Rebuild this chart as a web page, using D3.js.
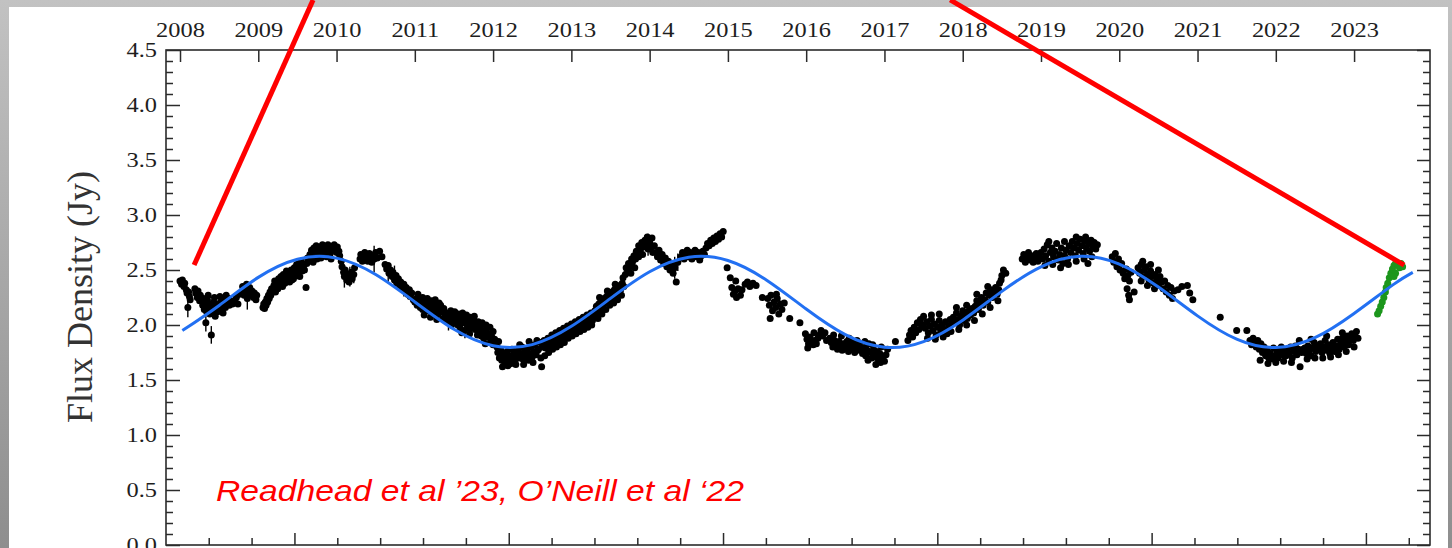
<!DOCTYPE html>
<html>
<head>
<meta charset="utf-8">
<script src="https://cdn.jsdelivr.net/npm/d3@7"></script>
<style>
  html, body { margin: 0; padding: 0; background: #fff; }
  svg { display: block; }
</style>
</head>
<body>
<svg id="chart" width="1452" height="548"></svg>
<script>
// ---- data -------------------------------------------------------------
const yearTicks = [2008, 2009, 2010, 2011, 2012, 2013, 2014, 2015, 2016, 2017, 2018, 2019, 2020, 2021, 2022, 2023];
const fluxMajorTicks = [0.0, 0.5, 1.0, 1.5, 2.0, 2.5, 3.0, 3.5, 4.0, 4.5];
const fluxMinorTicks = [0.1,0.2,0.3,0.4, 0.6,0.7,0.8,0.9, 1.1,1.2,1.3,1.4, 1.6,1.7,1.8,1.9,
                        2.1,2.2,2.3,2.4, 2.6,2.7,2.8,2.9, 3.1,3.2,3.3,3.4, 3.6,3.7,3.8,3.9, 4.1,4.2,4.3,4.4];
// lower axis in Modified Julian Date
const mjdMajorTicks = [55000, 56000, 57000, 58000, 59000, 60000];
const mjdMinorTicks = [54600, 54800, 55200, 55400, 55600, 55800, 56200, 56400, 56600, 56800,
                       57200, 57400, 57600, 57800, 58200, 58400, 58600, 58800, 59200, 59400,
                       59600, 59800, 60200];

// sinusoidal fit (Jy) sampled every half year
const fitYear = [2008.03, 2008.5, 2009.0, 2009.5, 2010.0, 2010.5, 2011.0, 2011.5, 2012.0, 2012.5,
                 2013.0, 2013.5, 2014.0, 2014.5, 2015.0, 2015.5, 2016.0, 2016.5, 2017.0, 2017.5,
                 2018.0, 2018.5, 2019.0, 2019.5, 2020.0, 2020.5, 2021.0, 2021.5, 2022.0, 2022.5,
                 2023.0, 2023.5, 2023.75];
const fitFlux = [1.949, 2.178, 2.433, 2.598, 2.608, 2.459, 2.210, 1.961, 1.812, 1.822,
                 1.988, 2.242, 2.484, 2.616, 2.586, 2.405, 2.145, 1.912, 1.798, 1.849,
                 2.044, 2.306, 2.529, 2.624, 2.554, 2.345, 2.083, 1.871, 1.795, 1.885,
                 2.105, 2.367, 2.479];

// 15 GHz light curve: [decimal year, flux density Jy]
const radioObs = [
  [2008.00,2.40],[2008.02,2.37],[2008.03,2.41],[2008.05,2.35],[2008.06,2.38],[2008.08,2.32],[2008.09,2.29],[2008.11,2.30],[2008.12,2.26],[2008.13,2.23],[2008.10,2.16],
  [2008.19,2.33],[2008.20,2.29],[2008.22,2.25],[2008.23,2.31],[2008.25,2.22],[2008.26,2.27],
  [2008.29,2.18],[2008.30,2.24],[2008.31,2.14],[2008.33,2.02],[2008.33,2.20],[2008.34,2.12],[2008.35,2.23],[2008.37,2.16],[2008.38,2.10],[2008.40,1.91],[2008.40,2.19],
  [2008.42,2.13],[2008.43,2.21],[2008.45,2.15],[2008.47,2.19],[2008.48,2.12],[2008.50,2.17],[2008.52,2.21],[2008.53,2.14],[2008.55,2.19],[2008.57,2.23],[2008.58,2.16],
  [2008.60,2.20],[2008.62,2.24],[2008.63,2.18],[2008.65,2.22],[2008.67,2.19],[2008.70,2.21],[2008.72,2.25],[2008.74,2.19],[2008.76,2.28],
  [2008.36,2.27],[2008.44,2.25],[2008.51,2.26],[2008.59,2.27],[2008.45,2.08],[2008.55,2.11],
  [2008.79,2.30],[2008.80,2.35],[2008.82,2.27],[2008.83,2.32],[2008.85,2.37],[2008.86,2.24],[2008.88,2.30],[2008.89,2.34],[2008.91,2.27],[2008.92,2.31],[2008.94,2.25],[2008.95,2.29],[2008.97,2.23],[2008.98,2.27],
  [2009.06,2.16],[2009.07,2.19],[2009.08,2.15],[2009.09,2.21],[2009.10,2.18],[2009.11,2.24],[2009.12,2.21],[2009.13,2.27],[2009.14,2.24],[2009.15,2.30],[2009.16,2.27],[2009.17,2.33],[2009.18,2.30],
  [2009.20,2.36],[2009.21,2.40],[2009.23,2.34],[2009.24,2.38],[2009.26,2.42],[2009.27,2.37],[2009.29,2.44],[2009.30,2.40],[2009.32,2.46],[2009.33,2.41],[2009.35,2.45],[2009.36,2.49],
  [2009.38,2.43],[2009.39,2.47],[2009.41,2.44],[2009.42,2.50],[2009.44,2.46],[2009.45,2.42],[2009.47,2.48],[2009.48,2.45],[2009.50,2.51],[2009.51,2.47],[2009.53,2.44],[2009.54,2.52],
  [2009.56,2.49],[2009.58,2.54],[2009.59,2.50],[2009.61,2.34],
  [2009.22,2.30],[2009.25,2.33],[2009.28,2.36],[2009.31,2.35],[2009.34,2.38],[2009.37,2.40],[2009.40,2.39],[2009.43,2.41],[2009.46,2.52],[2009.49,2.55],[2009.52,2.56],[2009.55,2.58],
  [2009.62,2.56],[2009.63,2.61],[2009.64,2.58],[2009.66,2.64],[2009.67,2.60],[2009.68,2.68],[2009.70,2.63],[2009.71,2.70],[2009.73,2.66],[2009.74,2.72],[2009.76,2.68],[2009.77,2.63],
  [2009.79,2.71],[2009.80,2.67],[2009.82,2.73],[2009.83,2.69],[2009.85,2.64],[2009.86,2.71],[2009.88,2.67],[2009.89,2.73],[2009.91,2.69],[2009.92,2.65],[2009.94,2.71],[2009.95,2.68],
  [2009.97,2.73],[2009.98,2.69],[2010.00,2.66],[2010.01,2.71],[2010.03,2.67],[2010.04,2.63],
  [2009.70,2.57],[2009.75,2.60],[2009.80,2.61],[2009.87,2.62],[2009.93,2.60],
  [2010.06,2.58],[2010.07,2.53],[2010.09,2.48],[2010.10,2.44],[2010.11,2.50],[2010.13,2.41],[2010.14,2.46],[2010.16,2.39],[2010.17,2.44],[2010.19,2.48],[2010.20,2.42],[2010.22,2.46],[2010.23,2.52],
  [2010.30,2.60],[2010.31,2.64],[2010.33,2.58],[2010.34,2.62],[2010.36,2.66],[2010.37,2.60],[2010.39,2.63],[2010.40,2.58],[2010.42,2.65],[2010.43,2.61],[2010.45,2.57],[2010.46,2.63],
  [2010.48,2.60],[2010.50,2.66],[2010.52,2.61],[2010.55,2.67],[2010.58,2.62],
  [2010.62,2.55],[2010.64,2.51],[2010.66,2.54],[2010.67,2.47],[2010.69,2.50],[2010.71,2.44],[2010.72,2.48],[2010.74,2.41],[2010.76,2.45],[2010.77,2.38],[2010.79,2.42],[2010.81,2.36],
  [2010.82,2.39],[2010.84,2.33],[2010.86,2.37],[2010.88,2.31],[2010.89,2.34],[2010.91,2.28],[2010.93,2.32],[2010.94,2.26],[2010.96,2.29],[2010.98,2.23],
  [2011.00,2.21],[2011.02,2.24],[2011.03,2.18],[2011.05,2.22],[2011.07,2.16],[2011.08,2.20],[2011.10,2.14],[2011.12,2.18],[2011.13,2.22],[2011.15,2.15],[2011.17,2.19],[2011.18,2.13],
  [2011.20,2.17],[2011.22,2.11],[2011.23,2.15],[2011.25,2.19],[2011.27,2.13],[2011.28,2.16],[2011.30,2.10],[2011.32,2.14],[2011.33,2.18],[2011.35,2.12],[2011.37,2.15],
  [2011.04,2.28],[2011.10,2.25],[2011.16,2.24],[2011.21,2.22],[2011.26,2.23],[2011.31,2.20],[2011.36,2.06],[2011.12,2.09],[2011.20,2.07],[2011.28,2.05],
  [2011.39,2.09],[2011.40,2.05],[2011.42,2.11],[2011.43,2.03],[2011.45,2.07],[2011.47,2.00],[2011.48,2.05],[2011.50,2.09],[2011.52,2.02],[2011.53,2.06],
  [2011.46,2.13],[2011.51,2.12],[2011.56,2.10],[2011.61,2.11],[2011.66,2.09],[2011.71,2.07],[2011.76,2.08],[2011.81,2.03],[2011.86,2.02],[2011.91,2.00],[2011.96,1.98],
  [2011.60,1.93],[2011.70,1.92],[2011.80,1.91],[2011.90,1.83],[2012.00,1.82],
  [2011.55,2.00],[2011.57,2.04],[2011.58,1.97],[2011.60,2.07],[2011.62,2.02],[2011.63,1.95],[2011.65,2.05],[2011.67,2.00],[2011.68,2.06],[2011.70,1.97],[2011.72,2.03],[2011.73,1.99],
  [2011.75,2.04],[2011.77,1.96],[2011.78,2.01],[2011.80,1.97],
  [2011.82,1.93],[2011.83,1.98],[2011.85,1.90],[2011.87,1.95],[2011.88,1.88],[2011.90,1.93],[2011.92,1.97],[2011.93,1.89],[2011.95,1.92],[2011.97,1.86],[2011.98,1.90],[2012.00,1.94],
  [2012.02,1.87],[2012.03,1.84],
  [2012.05,1.80],[2012.06,1.75],[2012.08,1.70],[2012.10,1.77],[2012.11,1.68],[2012.13,1.73],[2012.15,1.66],[2012.17,1.71],[2012.18,1.76],[2012.20,1.67],[2012.22,1.72],[2012.23,1.65],
  [2012.25,1.70],[2012.27,1.74],[2012.28,1.68],[2012.30,1.72],
  [2012.07,1.85],[2012.12,1.62],[2012.19,1.63],[2012.24,1.78],[2012.29,1.64],[2012.34,1.82],[2012.39,1.64],[2012.46,1.85],[2012.51,1.66],[2012.56,1.86],[2012.61,1.70],
  [2012.32,1.77],[2012.33,1.70],[2012.35,1.74],[2012.37,1.80],[2012.38,1.69],[2012.40,1.75],[2012.42,1.72],[2012.43,1.78],[2012.45,1.68],[2012.47,1.74],[2012.48,1.80],[2012.50,1.71],
  [2012.52,1.76],[2012.53,1.82],[2012.55,1.73],[2012.57,1.77],[2012.58,1.78],[2012.60,1.84],[2012.62,1.62],[2012.63,1.80],[2012.65,1.86],
  [2012.67,1.79],[2012.68,1.84],[2012.70,1.88],[2012.72,1.81],[2012.73,1.86],[2012.75,1.91],[2012.77,1.83],[2012.78,1.88],[2012.80,1.93],[2012.82,1.85],[2012.83,1.90],[2012.85,1.95],
  [2012.87,1.87],[2012.88,1.92],[2012.90,1.97],[2012.92,1.89],[2012.93,1.94],[2012.95,1.99],
  [2012.66,1.72],[2012.71,1.75],[2012.76,1.78],[2012.81,1.80],[2012.86,1.82],[2012.91,1.84],[2012.96,1.88],[2013.01,1.90],[2013.06,1.92],[2013.11,1.94],[2013.16,1.96],[2013.21,1.98],[2013.26,2.00],
  [2012.97,1.93],[2012.98,1.97],[2013.00,2.01],[2013.02,1.95],[2013.03,1.99],[2013.05,2.03],[2013.07,1.96],[2013.08,2.01],[2013.10,2.05],[2013.12,1.98],[2013.13,2.03],[2013.15,2.07],
  [2013.17,2.00],[2013.18,2.05],[2013.20,2.09],[2013.22,2.02],[2013.23,2.07],[2013.25,2.11],[2013.27,2.04],[2013.28,2.09],
  [2013.30,2.13],[2013.32,2.17],[2013.33,2.11],[2013.35,2.19],[2013.37,2.15],[2013.38,2.22],[2013.40,2.18],[2013.42,2.24],[2013.43,2.20],[2013.45,2.26],[2013.47,2.22],[2013.48,2.28],
  [2013.50,2.24],[2013.52,2.30],[2013.53,2.26],[2013.55,2.32],[2013.57,2.28],[2013.58,2.34],[2013.60,2.30],[2013.62,2.36],[2013.63,2.32],[2013.65,2.38],[2013.67,2.35],
  [2013.34,2.06],[2013.39,2.10],[2013.44,2.14],[2013.49,2.18],[2013.54,2.20],[2013.59,2.23],[2013.64,2.27],[2013.36,2.25],[2013.46,2.31],[2013.56,2.37],[2013.66,2.43],
  [2013.69,2.46],[2013.70,2.52],[2013.72,2.49],[2013.73,2.56],[2013.75,2.53],[2013.77,2.60],[2013.78,2.57],[2013.80,2.63],[2013.82,2.60],[2013.83,2.67],[2013.84,2.63],
  [2013.76,2.47],[2013.81,2.52],[2013.86,2.62],[2013.91,2.64],[2013.97,2.80],[2014.03,2.79],
  [2013.86,2.72],[2013.88,2.68],[2013.90,2.75],[2013.92,2.71],[2013.94,2.77],[2013.96,2.73],[2013.98,2.69],[2014.00,2.75],[2014.02,2.71],[2014.04,2.66],[2014.06,2.72],
  [2014.08,2.66],[2014.10,2.62],[2014.12,2.68],[2014.14,2.59],[2014.16,2.64],[2014.18,2.56],[2014.20,2.61],[2014.22,2.53],[2014.24,2.58],[2014.26,2.50],[2014.28,2.55],[2014.30,2.47],
  [2014.32,2.52],[2014.34,2.39],[2014.36,2.57],
  [2014.40,2.62],[2014.42,2.66],[2014.44,2.60],[2014.46,2.64],[2014.48,2.68],[2014.50,2.62],[2014.52,2.66],[2014.54,2.60],[2014.56,2.64],[2014.58,2.68],[2014.60,2.62],[2014.62,2.66],
  [2014.64,2.59],[2014.66,2.63],[2014.68,2.67],[2014.70,2.64],
  [2014.72,2.70],[2014.74,2.74],[2014.76,2.72],[2014.78,2.77],[2014.80,2.74],[2014.82,2.79],[2014.84,2.76],[2014.86,2.81],[2014.88,2.78],[2014.90,2.83],[2014.92,2.80],[2014.94,2.85],
  [2014.99,2.52],[2015.03,2.43],[2015.05,2.34],[2015.07,2.28],[2015.09,2.31],[2015.11,2.25],[2015.13,2.33],[2015.16,2.27],[2015.22,2.37],[2015.25,2.39],[2015.28,2.35],[2015.32,2.38],
  [2015.36,2.36],[2015.44,2.25],[2015.51,2.24],[2015.53,2.18],[2015.55,2.27],[2015.57,2.13],[2015.59,2.21],[2015.61,2.16],[2015.63,2.24],[2015.65,2.10],[2015.67,2.19],[2015.69,2.14],
  [2015.72,2.20],[2015.79,2.06],[2015.92,2.02],
  [2015.10,2.40],[2015.18,2.32],[2015.54,2.06],[2015.62,2.28],
  [2015.99,1.92],[2016.01,1.87],[2016.03,1.83],[2016.05,1.89],[2016.07,1.85],[2016.09,1.82],[2016.11,1.86],[2016.13,1.83],[2016.15,1.88],[2016.17,1.91],[2016.19,1.95],[2016.21,1.90],
  [2016.24,1.93],[2016.26,1.86],[2016.02,1.79],[2016.10,1.93],
  [2016.30,1.88],[2016.32,1.84],[2016.34,1.80],[2016.36,1.86],[2016.38,1.82],[2016.40,1.78],[2016.42,1.85],[2016.44,1.81],[2016.46,1.77],[2016.48,1.83],[2016.50,1.79],[2016.52,1.85],
  [2016.54,1.76],[2016.56,1.81],[2016.58,1.78],[2016.60,1.84],[2016.62,1.75],[2016.64,1.80],[2016.66,1.77],[2016.68,1.82],[2016.70,1.78],
  [2016.35,1.91],[2016.45,1.90],[2016.55,1.88],[2016.65,1.86],[2016.75,1.85],[2016.85,1.82],[2016.95,1.66],[2016.79,1.68],[2016.89,1.64],
  [2016.72,1.74],[2016.74,1.79],[2016.76,1.72],[2016.78,1.77],[2016.80,1.83],[2016.82,1.75],[2016.84,1.70],[2016.86,1.78],[2016.88,1.73],[2016.90,1.76],[2016.92,1.69],[2016.94,1.74],
  [2016.96,1.80],[2016.98,1.71],[2017.00,1.67],[2017.02,1.73],[2017.04,1.78],
  [2017.14,1.85],
  [2017.30,1.86],[2017.32,1.91],[2017.34,1.95],[2017.36,1.89],[2017.38,1.98],[2017.40,1.93],[2017.42,2.02],[2017.44,1.96],[2017.46,2.05],[2017.48,2.00],[2017.50,2.08],
  [2017.52,1.97],[2017.54,2.03],[2017.56,1.93],[2017.58,1.99],[2017.60,2.05],[2017.62,1.95],[2017.64,2.01],[2017.66,1.91],[2017.68,1.98],[2017.70,2.04],[2017.72,1.94],[2017.74,2.00],
  [2017.76,1.96],[2017.78,2.03],[2017.80,1.92],[2017.82,1.99],[2017.84,2.05],
  [2017.55,1.88],[2017.65,1.87],[2017.75,1.89],[2017.85,1.94],[2017.95,1.96],[2018.05,2.00],[2018.15,2.04],[2018.25,2.10],[2018.35,2.16],[2018.45,2.22],
  [2017.60,2.09],[2017.70,2.10],[2017.92,2.16],[2018.05,2.18],[2018.18,2.28],[2018.32,2.35],
  [2017.86,2.01],[2017.88,2.07],[2017.90,2.03],[2017.92,2.11],[2017.94,2.05],[2017.96,2.00],[2017.98,2.08],[2018.00,2.13],[2018.02,2.04],[2018.04,2.10],[2018.06,2.06],[2018.08,2.13],
  [2018.10,2.09],[2018.12,2.15],[2018.14,2.11],
  [2018.16,2.17],[2018.18,2.22],[2018.20,2.14],[2018.22,2.20],[2018.24,2.25],[2018.26,2.18],[2018.28,2.23],[2018.30,2.29],[2018.32,2.21],[2018.34,2.27],[2018.36,2.32],[2018.38,2.25],
  [2018.40,2.30],[2018.42,2.34],[2018.44,2.28],[2018.46,2.32],[2018.47,2.38],[2018.49,2.41],
  [2018.50,2.45],[2018.52,2.50],[2018.55,2.47],
  [2018.76,2.60],[2018.78,2.64],[2018.80,2.57],[2018.82,2.62],[2018.84,2.66],[2018.86,2.59],[2018.88,2.63],[2018.90,2.57],[2018.92,2.61],[2018.94,2.65],[2018.96,2.58],[2018.98,2.62],[2019.00,2.66],
  [2019.02,2.60],[2019.04,2.69],[2019.06,2.63],[2019.08,2.73],[2019.10,2.58],[2019.12,2.66],[2019.14,2.70],[2019.16,2.62],[2019.18,2.67],[2019.20,2.74],[2019.22,2.59],[2019.24,2.64],
  [2019.26,2.70],[2019.28,2.56],[2019.30,2.63],[2019.32,2.68],[2019.34,2.60],
  [2019.05,2.54],[2019.15,2.55],[2019.25,2.52],[2019.35,2.55],[2019.45,2.58],[2019.55,2.60],[2019.65,2.62],[2019.10,2.76],[2019.30,2.76],[2019.45,2.80],[2019.57,2.80],
  [2019.36,2.72],[2019.38,2.66],[2019.40,2.76],[2019.42,2.70],[2019.44,2.63],[2019.46,2.74],[2019.48,2.68],[2019.50,2.78],[2019.52,2.72],[2019.54,2.65],[2019.56,2.76],[2019.58,2.70],
  [2019.60,2.56],[2019.61,2.74],[2019.62,2.67],[2019.64,2.77],[2019.66,2.71],[2019.68,2.75],[2019.70,2.69],[2019.72,2.73],
  [2019.91,2.62],[2019.93,2.57],[2019.95,2.65],[2019.97,2.53],[2019.99,2.60],[2020.01,2.50],[2020.03,2.56],
  [2020.05,2.47],[2020.07,2.42],[2020.09,2.51],[2020.11,2.45],[2020.13,2.40],[2020.15,2.48],[2020.10,2.33],[2020.12,2.27],[2020.13,2.23],[2020.19,2.30],
  [2020.24,2.52],[2020.26,2.47],[2020.28,2.55],[2020.30,2.44],[2020.32,2.50],[2020.34,2.53],[2020.36,2.46],[2020.38,2.41],[2020.40,2.49],[2020.42,2.44],[2020.44,2.38],[2020.46,2.46],
  [2020.48,2.41],[2020.50,2.36],[2020.52,2.44],[2020.54,2.39],
  [2020.28,2.40],[2020.36,2.36],[2020.45,2.33],[2020.30,2.58],[2020.40,2.55],[2020.50,2.50],
  [2020.56,2.33],[2020.58,2.40],[2020.60,2.30],[2020.62,2.36],[2020.64,2.27],[2020.66,2.34],[2020.68,2.24],[2020.70,2.31],
  [2020.75,2.32],[2020.80,2.35],[2020.87,2.36],[2020.90,2.29],[2020.94,2.23],
  [2021.29,2.07],[2021.50,1.95],[2021.63,1.95],
  [2021.67,1.86],[2021.69,1.82],[2021.71,1.88],[2021.73,1.84],[2021.75,1.80],[2021.77,1.86],[2021.79,1.78],[2021.81,1.83],[2021.83,1.75],[2021.85,1.80],[2021.87,1.72],[2021.89,1.77],
  [2021.91,1.70],[2021.93,1.74],[2021.95,1.69],[2021.97,1.79],[2021.99,1.72],[2022.01,1.77],[2022.03,1.70],[2022.05,1.75],[2022.07,1.80],[2022.09,1.73],[2022.11,1.77],
  [2022.13,1.72],[2022.15,1.78],[2022.17,1.74],[2022.19,1.80],[2022.21,1.70],[2022.23,1.76],[2022.25,1.81],[2022.27,1.73],[2022.29,1.78],[2022.31,1.62],[2022.33,1.75],[2022.35,1.78],
  [2022.37,1.79],[2022.39,1.74],[2022.41,1.81],[2022.43,1.77],[2022.45,1.72],[2022.47,1.79],[2022.49,1.84],[2022.51,1.76],[2022.53,1.81],
  [2021.80,1.68],[2021.90,1.65],[2022.00,1.66],[2022.10,1.67],[2022.20,1.66],[2022.40,1.69],[2022.50,1.70],[2022.60,1.70],[2022.70,1.71],[2022.80,1.73],[2022.90,1.76],[2023.00,1.80],
  [2022.30,1.86],[2022.45,1.87],[2022.65,1.90],[2022.85,1.93],
  [2022.55,1.78],[2022.57,1.83],[2022.59,1.75],[2022.61,1.80],[2022.63,1.86],[2022.65,1.77],[2022.67,1.82],[2022.69,1.74],[2022.71,1.79],[2022.73,1.84],[2022.75,1.76],[2022.77,1.81],
  [2022.79,1.87],[2022.81,1.78],[2022.83,1.83],[2022.85,1.88],[2022.87,1.80],[2022.89,1.85],[2022.91,1.90],[2022.93,1.82],[2022.95,1.87],[2022.97,1.92],[2022.99,1.86],[2023.01,1.90],
  [2023.03,1.94],[2023.05,1.88]
];

// visible 1-sigma bars: [decimal year, flux Jy, half-length Jy]
const radioErr = [
  [2008.10,2.16,0.09],[2008.33,2.02,0.08],[2008.40,1.91,0.08],[2008.86,2.24,0.10],[2010.10,2.44,0.10],[2010.17,2.44,0.09],
  [2010.22,2.46,0.08],[2010.48,2.60,0.12],[2010.66,2.47,0.08],[2010.74,2.45,0.09],[2010.86,2.33,0.07],[2011.43,2.03,0.08],
  [2011.64,1.97,0.09],[2013.98,2.73,0.10],[2014.32,2.52,0.10],[2014.36,2.57,0.08]
];

// 2023 monitoring: [decimal year, flux Jy]
const recentObs = [
  [2023.30,2.10],[2023.32,2.13],[2023.34,2.17],[2023.36,2.21],[2023.38,2.25],[2023.40,2.30],[2023.41,2.34],[2023.43,2.38],[2023.45,2.43],[2023.47,2.47],
  [2023.49,2.51],[2023.51,2.54],[2023.53,2.56],[2023.56,2.55],[2023.58,2.52],[2023.60,2.56],[2023.62,2.53],[2023.53,2.47],[2023.51,2.44]
];

// red pointer strokes, ends in (decimal year, Jy)
const pointerFrom = [[2008.18, 2.545], [2023.64, 2.545]];
const pointerTo   = [[2009.70, 4.955], [2017.84, 4.955]];

const creditText = "Readhead et al \u201923, O\u2019Neill et al \u201822";
const yTitle = "Flux Density (Jy)";

// ---- layout -----------------------------------------------------------
const W = 1452, H = 548;
const plot = { left: 166, right: 1430, top: 50, bottom: 545 };
const labelStretch = 1.22;

const svg = d3.select("#chart");

const x = d3.scaleLinear().domain([2007.821, 2023.970]).range([plot.left, plot.right]);
const y = d3.scaleLinear().domain([0, 4.5]).range([plot.bottom, plot.top]);
const mjdToYear = m => 2008 + (m - 54466) / 365.25;

// slide backdrop and white card
const defs = svg.append("defs");
const bg = defs.append("linearGradient").attr("id", "slideBg")
  .attr("x1", 0).attr("y1", 0).attr("x2", 0).attr("y2", 1);
bg.append("stop").attr("offset", 0).attr("stop-color", "#c2c2c2");
bg.append("stop").attr("offset", 1).attr("stop-color", "#8e8e8e");
svg.append("rect").attr("width", W).attr("height", H).attr("fill", "url(#slideBg)");
svg.append("rect").attr("x", 9).attr("y", 7).attr("width", 1439).attr("height", H - 7).attr("fill", "#fff");

const ink = "#2b2b2b";
const axisStyle = g => {
  g.select(".domain").remove();
  g.selectAll(".tick line").attr("stroke", ink).attr("stroke-width", 1.5);
};

// top axis: calendar years
svg.append("g").attr("transform", `translate(0,${plot.top})`)
  .call(d3.axisTop(x).tickValues(yearTicks).tickSize(-12).tickPadding(13).tickFormat(d3.format("d")))
  .call(axisStyle)
  .call(g => g.selectAll("text")
    .attr("font-family", "'Liberation Serif', 'Times New Roman', serif")
    .attr("font-size", 20).attr("fill", "#1e1e1e")
    .attr("transform", `scale(${labelStretch},1)`));

// bottom axis: MJD ticks
svg.append("g").attr("transform", `translate(0,${plot.bottom})`)
  .call(d3.axisBottom(x).tickValues(mjdMajorTicks.map(mjdToYear)).tickSize(-12).tickFormat(""))
  .call(axisStyle);
svg.append("g").attr("transform", `translate(0,${plot.bottom})`)
  .call(d3.axisBottom(x).tickValues(mjdMinorTicks.map(mjdToYear)).tickSize(-7).tickFormat(""))
  .call(axisStyle);

// left axis
svg.append("g").attr("transform", `translate(${plot.left},0)`)
  .call(d3.axisLeft(y).tickValues(fluxMajorTicks).tickSize(-14).tickPadding(9).tickFormat(d3.format(".1f")))
  .call(axisStyle)
  .call(g => g.selectAll("text")
    .attr("font-family", "'Liberation Serif', 'Times New Roman', serif")
    .attr("font-size", 20).attr("fill", "#1e1e1e")
    .attr("x", -9 / labelStretch)
    .attr("transform", `scale(${labelStretch},1)`));
svg.append("g").attr("transform", `translate(${plot.left},0)`)
  .call(d3.axisLeft(y).tickValues(fluxMinorTicks).tickSize(-7).tickFormat(""))
  .call(axisStyle);

// right axis
svg.append("g").attr("transform", `translate(${plot.right},0)`)
  .call(d3.axisRight(y).tickValues(fluxMajorTicks).tickSize(-13).tickFormat(""))
  .call(axisStyle);
svg.append("g").attr("transform", `translate(${plot.right},0)`)
  .call(d3.axisRight(y).tickValues(fluxMinorTicks).tickSize(-7).tickFormat(""))
  .call(axisStyle);

// frame
svg.append("rect")
  .attr("x", plot.left).attr("y", plot.top)
  .attr("width", plot.right - plot.left).attr("height", plot.bottom - plot.top)
  .attr("fill", "none").attr("stroke", ink).attr("stroke-width", 1.6);

// y title
svg.append("text")
  .attr("transform", "translate(92,297) rotate(-90)")
  .attr("text-anchor", "middle")
  .attr("font-family", "'Liberation Serif', 'Times New Roman', serif")
  .attr("font-size", 36).attr("fill", "#333")
  .text(yTitle);

// error bars
svg.append("g").selectAll("line").data(radioErr).join("line")
  .attr("x1", d => x(d[0])).attr("x2", d => x(d[0]))
  .attr("y1", d => y(d[1] - d[2])).attr("y2", d => y(d[1] + d[2]))
  .attr("stroke", "#000").attr("stroke-width", 1.4);

// observations
svg.append("g").selectAll("circle").data(radioObs).join("circle")
  .attr("cx", d => x(d[0])).attr("cy", d => y(d[1])).attr("r", 3.5)
  .attr("fill", "#000");

svg.append("g").selectAll("circle").data(recentObs).join("circle")
  .attr("cx", d => x(d[0])).attr("cy", d => y(d[1])).attr("r", 3.5)
  .attr("fill", "#1c961c");

// periodic fit
svg.append("path")
  .datum(d3.zip(fitYear, fitFlux))
  .attr("fill", "none").attr("stroke", "#2270f2").attr("stroke-width", 3)
  .attr("d", d3.line().x(d => x(d[0])).y(d => y(d[1])).curve(d3.curveNatural));

// pointer strokes
svg.append("g").selectAll("line").data(d3.zip(pointerFrom, pointerTo)).join("line")
  .attr("x1", d => x(d[0][0])).attr("y1", d => y(d[0][1]))
  .attr("x2", d => x(d[1][0])).attr("y2", d => y(d[1][1]))
  .attr("stroke", "#ff0000").attr("stroke-width", 5);

// reference credit
svg.append("text")
  .attr("x", 216).attr("y", 501)
  .attr("font-family", "'Liberation Sans', Arial, sans-serif")
  .attr("font-style", "italic")
  .attr("font-size", 29).attr("fill", "#f00")
  .attr("textLength", 528).attr("lengthAdjust", "spacingAndGlyphs")
  .text(creditText);
</script>
</body>
</html>
